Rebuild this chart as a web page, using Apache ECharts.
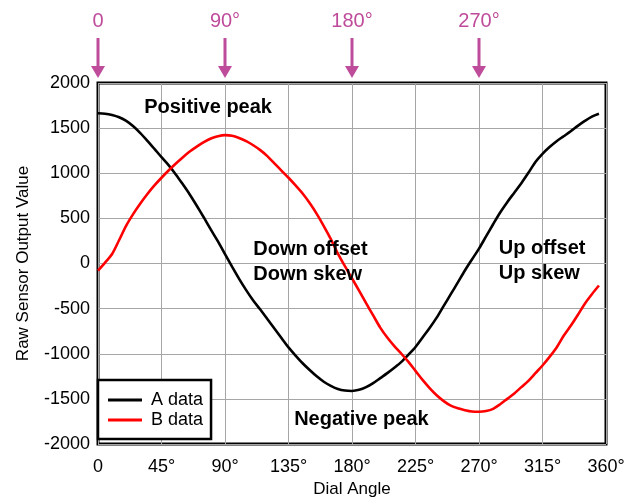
<!DOCTYPE html>
<html>
<head>
<meta charset="utf-8">
<script src="https://cdn.jsdelivr.net/npm/echarts@6/dist/echarts.min.js"></script>
<style>
  html, body { margin: 0; padding: 0; background: #fff; }
  #chart { width: 626px; height: 498px; }
</style>
</head>
<body>
<div id="chart"></div>
<script>
// Dial angle samples, degrees (5° steps)
const angles = [];
for (let a = 0; a <= 355; a += 5) angles.push(a);

// Raw sensor output, channel A
const aData = [
  1665, 1660, 1645, 1620, 1580, 1520, 1445, 1360, 1270, 1178,
  1090, 990, 880, 765, 640, 510, 375, 245, 105, -35,
  -170, -295, -410, -510, -615, -720, -825, -930, -1020, -1105,
  -1180, -1250, -1310, -1355, -1390, -1408, -1412, -1400, -1370, -1325,
  -1270, -1215, -1155, -1090, -1010, -925, -820, -715, -600, -470,
  -340, -210, -78, 45, 165, 300, 435, 565, 680, 785,
  890, 1005, 1125, 1215, 1290, 1355, 1410, 1465, 1525, 1580,
  1628, 1660
];

// Raw sensor output, channel B
const bData = [
  -80, 10, 105, 260, 420, 550, 665, 770, 865, 950,
  1030, 1105, 1175, 1240, 1295, 1345, 1385, 1410, 1422, 1415,
  1390, 1355, 1310, 1256, 1190, 1110, 1030, 950, 865, 775,
  670, 550, 415, 270, 110, -30, -165, -300, -440, -575,
  -710, -820, -915, -1000, -1090, -1190, -1290, -1380, -1460, -1525,
  -1575, -1605, -1625, -1640, -1643, -1635, -1610, -1560, -1500, -1440,
  -1370, -1300, -1215, -1130, -1035, -930, -800, -690, -570, -445,
  -340, -244
];

// Quadrant markers above the plot
const markerAngles = [0, 90, 180, 270];
const markerLabels = ['0', '90°', '180°', '270°'];

// Text notes placed at [angle, value]
const notes = [
  { text: 'Positive peak', at: [78, 1730], align: 'center' },
  { text: 'Down offset', at: [110, 150], align: 'left' },
  { text: 'Down skew', at: [110, -125], align: 'left' },
  { text: 'Negative peak', at: [139, -1730], align: 'left' },
  { text: 'Up offset', at: [284, 165], align: 'left' },
  { text: 'Up skew', at: [284, -110], align: 'left' }
];

const FONT = '"Liberation Sans", Arial, sans-serif';
const MAGENTA = '#bf4c9b';

const chart = echarts.init(document.getElementById('chart'), null, { renderer: 'canvas' });

const pairs = (vals) => angles.map((a, i) => [a, vals[i]]);

chart.setOption({
  animation: false,
  backgroundColor: '#fff',
  textStyle: { fontFamily: FONT },
  grid: {
    left: 98, top: 83, right: 20, bottom: 54,
    outerBoundsMode: 'none',
    containLabel: false,
    show: true, borderColor: '#000', borderWidth: 3, backgroundColor: 'transparent'
  },
  legend: {
    orient: 'vertical',
    left: 98, top: 380,
    backgroundColor: '#fff',
    borderColor: '#000',
    borderWidth: 2.5,
    borderRadius: 0,
    padding: [11, 8, 10, 10],
    itemGap: 2,
    itemWidth: 34,
    itemHeight: 3,
    icon: 'rect',
    textStyle: { fontFamily: FONT, fontSize: 18, color: '#000', padding: [0, 0, 0, 4] },
    data: ['A data', 'B data'],
    z: 10
  },
  xAxis: {
    type: 'value',
    min: 0, max: 360, interval: 45,
    name: 'Dial Angle',
    nameLocation: 'middle',
    nameGap: 35,
    nameTextStyle: { fontFamily: FONT, fontSize: 17, color: '#000' },
    axisLine: { show: false },
    axisTick: { show: false },
    axisLabel: {
      fontFamily: FONT, fontSize: 18, color: '#000', margin: 14,
      formatter: (v) => (v === 0 ? '0' : v + '°')
    },
    splitLine: { show: true, lineStyle: { color: '#a6a6a6', width: 1 } }
  },
  yAxis: {
    type: 'value',
    min: -2000, max: 2000, interval: 500,
    name: 'Raw Sensor Output Value',
    nameLocation: 'middle',
    nameGap: 66,
    nameTextStyle: { fontFamily: FONT, fontSize: 17, color: '#000' },
    axisLine: { show: false },
    axisTick: { show: false },
    axisLabel: {
      fontFamily: FONT, fontSize: 18, color: '#000', margin: 8,
      formatter: (v) => String(v)
    },
    splitLine: { show: true, lineStyle: { color: '#a6a6a6', width: 1 } }
  },
  series: [
    {
      name: 'A data', type: 'line', data: pairs(aData),
      symbol: 'none', smooth: 0.3,
      lineStyle: { color: '#000', width: 2.6 },
      itemStyle: { color: '#000' }, z: 3
    },
    {
      name: 'B data', type: 'line', data: pairs(bData),
      symbol: 'none', smooth: 0.3,
      lineStyle: { color: '#ff0000', width: 2.6 },
      itemStyle: { color: '#ff0000' }, z: 3
    }
  ]
});

// Markers and notes are positioned through the chart's own coordinate system
const elements = [];
markerAngles.forEach((ang, i) => {
  const x = chart.convertToPixel({ gridIndex: 0 }, [ang, 0])[0];
  const top = chart.convertToPixel({ gridIndex: 0 }, [0, 2000])[1];
  elements.push({
    type: 'text', z: 20,
    style: {
      text: markerLabels[i], x: x, y: 21,
      fill: MAGENTA, font: '20px ' + FONT,
      textAlign: 'center', textVerticalAlign: 'middle'
    }
  });
  elements.push({
    type: 'line', z: 20,
    shape: { x1: x, y1: 38, x2: x, y2: top - 15 },
    style: { stroke: MAGENTA, lineWidth: 3 }
  });
  elements.push({
    type: 'polygon', z: 20,
    shape: { points: [[x - 7, top - 17], [x + 7, top - 17], [x, top - 5]] },
    style: { fill: MAGENTA }
  });
});
notes.forEach((n) => {
  const p = chart.convertToPixel({ gridIndex: 0 }, n.at);
  elements.push({
    type: 'text', z: 20,
    style: {
      text: n.text, x: p[0], y: p[1],
      fill: '#000', font: 'bold 20px ' + FONT,
      textAlign: n.align, textVerticalAlign: 'middle'
    }
  });
});
chart.setOption({ graphic: { elements: elements } });
</script>
</body>
</html>
